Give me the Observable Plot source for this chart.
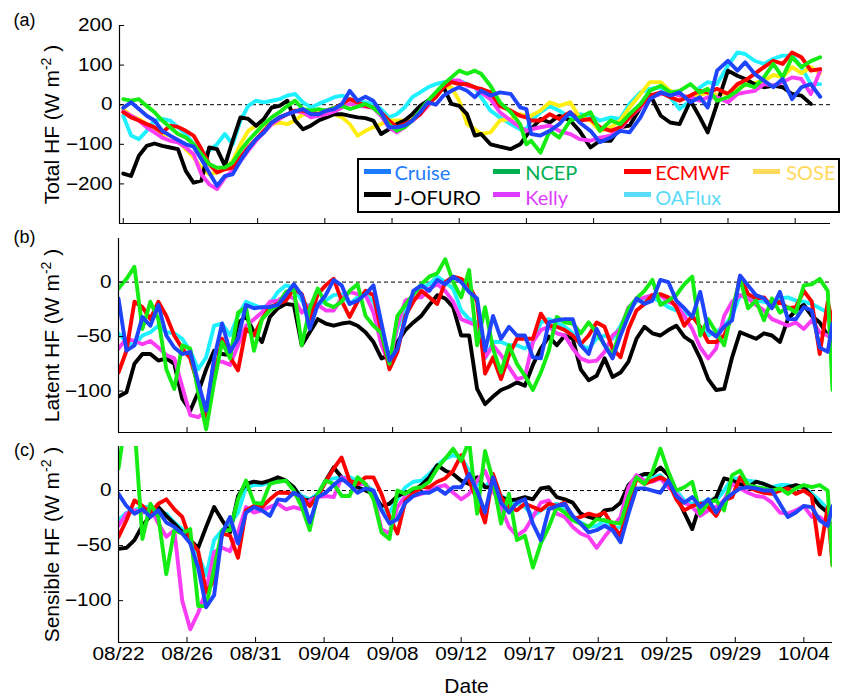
<!DOCTYPE html>
<html><head><meta charset="utf-8">
<script src="https://cdn.jsdelivr.net/npm/d3@7"></script>
<script src="https://cdn.jsdelivr.net/npm/@observablehq/plot@0.6"></script>
<style>
body{margin:0;background:#fff;}
#chart{position:relative;width:841px;height:698px;font-family:"Liberation Sans",Arial,Helvetica,sans-serif;background:#fff;}
#chart svg{display:block;}
.legend{position:absolute;left:357px;top:158px;width:483px;height:55px;box-sizing:border-box;border:2.5px solid #000;background:#fff;}
.sw{position:absolute;width:27px;height:5px;}
.lt{position:absolute;font-family:Lato,"Liberation Sans",Arial,sans-serif;font-size:20px;line-height:20px;white-space:nowrap;}
</style></head><body><div id="chart"></div><script>
// ---------------- data ----------------
const seriesNames = ["Cruise","NCEP","ECMWF","SOSE","J-OFURO","Kelly","OAFlux"];
const xTickDays = [0,4.3,8.6,12.9,17.2,21.5,25.8,30.1,34.4,38.7,43];
const xTickLabels = ["08/22","08/26","08/31","09/04","09/08","09/12","09/17","09/21","09/25","09/29","10/04"];
const yTicksTotal = [-200,-100,0,100,200];
const yTicksFlux = [-100,-50,0];

// days since 08/22 (panel a)
const daysA = [0,0.5,1,1.5,2,2.5,3,3.5,4,4.5,5,5.5,6,6.5,7,7.5,8,8.5,9,9.5,10,10.5,11,11.5,12,12.5,13,13.5,14,14.5,15,15.5,16,16.5,17,17.5,18,18.5,19,19.5,20,20.5,21,21.5,22,22.5,
  22.9,23.5,24.1,24.8,25.4,25.8,26.1,26.7,27.3,27.9,28.6,29.2,29.9,30.5,31.2,31.8,32.4,33.1,33.7,34.4,35.0,35.6,36.3,36.9,37.4,38.0,38.7,39.3,39.8,40.4,41,41.6,42.2,42.8,43.4,44,44.6];
// days since 08/22 (panels b, c)
const daysBC = [0,0.5,1,1.5,2,2.5,3,3.5,4,4.5,5,5.5,6,6.5,7,7.5,8,8.5,9,9.5,10,10.5,11,11.5,12,12.5,13,13.5,14,14.5,15,15.5,16,16.5,17,17.5,18,18.5,19,19.5,20,20.5,21,21.5,22,22.5,23,23.5,24,24.5,25,25.5,26,26.5,27,27.5,28,28.5,29,29.5,30,30.5,31,31.5,32,32.5,33,33.5,34,34.5,35,35.5,36,36.5,37,37.5,38,38.5,39,39.5,40,40.5,41,41.5,42,42.5,43,43.5,44,44.5,44.8];

// (a) Total heat flux
const totalCruise = [-8,6,-11,-28,-40,-66,-78,-89,-100,-106,-138,-171,-205,-180,-176,-142,-112,-87,-70,-45,-32,-24,-17,-11,-24,-24,-15,-11,2,35,10,20,10,-19,-57,-57,-53,-40,-19,6,0,23,35,44,35,19,
  35,23,31,27,-7,-11,-74,-78,-66,-49,-19,-45,-66,-95,-83,-66,-70,-32,14,31,23,31,6,19,-7,86,111,86,107,78,61,44,65,14,44,52,20];
const totalNCEP = [14,10,14,-3,-19,-40,-57,-74,-83,-100,-125,-150,-159,-159,-146,-116,-91,-70,-49,-32,-19,-3,10,-11,-15,-11,-15,-8,-3,-11,-5,2,-8,-24,-49,-66,-57,-40,-15,10,31,52,69,86,78,86,
  78,48,6,-19,-49,-100,-91,-121,-66,-83,-40,-32,-19,-66,-40,-49,-24,2,35,48,31,35,52,31,40,10,19,35,52,44,69,103,69,120,95,110,120];
const totalECMWF = [-19,-32,-40,-49,-57,-70,-53,-56,-66,-78,-112,-150,-171,-163,-159,-133,-108,-87,-66,-45,-32,-24,-15,-15,-19,-24,-15,-8,2,14,6,-3,-7,-19,-40,-57,-49,-40,-24,2,19,44,57,52,52,44,
  40,31,-3,-15,-28,-32,-40,-40,-24,-36,-19,-40,-36,-57,-66,-57,-32,-3,23,31,19,10,23,35,31,40,27,52,61,78,95,111,103,132,120,86,90];
const totalSOSE = [-11,-28,-36,-49,-62,-74,-78,-91,-112,-133,-159,-176,-171,-163,-142,-100,-66,-53,-49,-49,-45,-49,-40,-24,-25,-19,-15,-24,-32,-49,-78,-66,-57,-49,-40,-40,-40,-36,-15,2,23,44,44,10,-49,-62,
  -74,-70,-40,-36,-24,-28,-28,-15,6,-3,6,-32,-40,-66,-57,-40,-7,27,57,57,35,23,20,25,30,25,30,40,50,55,60,75,70,95,80,95,80];
const totalJOFURO = [-174,-180,-129,-104,-98,-104,-108,-112,-167,-197,-192,-108,-112,-154,-91,-32,-36,-53,-36,-7,-3,10,-40,-62,-53,-40,-32,-24,-24,-28,-32,-34,-40,-74,-62,-49,-40,-24,-3,10,23,44,2,-3,-24,-78,
  -74,-100,-106,-112,-100,-78,-62,-36,-45,-28,-40,-66,-108,-91,-91,-57,-53,-7,27,-28,-45,-49,10,-32,-70,2,86,73,65,52,44,48,44,27,23,2,null];
const totalKelly = [-17,-28,-40,-57,-70,-83,-91,-95,-108,-125,-176,-201,-213,-184,-167,-142,-116,-91,-70,-49,-36,-24,-17,-19,-32,-28,-24,-17,-7,2,-3,-5,-8,-28,-57,-70,-57,-40,-24,-3,23,48,61,61,48,44,
  31,14,-19,-40,-57,-66,-62,-57,-53,-66,-74,-87,-91,-83,-78,-62,-32,-7,19,27,31,23,19,10,19,19,6,27,31,35,52,48,57,69,65,27,86];
const totalOAFlux = [-28,-78,-87,-66,-40,-36,-40,-57,-74,-100,-133,-116,-100,-74,-100,-40,-3,10,6,10,14,23,27,6,-7,2,10,19,23,14,6,6,2,-11,-32,-24,-7,19,31,44,52,57,57,61,52,44,
  19,-15,-32,-49,-62,-62,-40,-19,-3,-15,-32,-24,-28,-40,-32,-36,2,31,40,44,19,-11,10,44,57,52,99,132,128,111,103,116,124,124,95,52,52];

// (b) Latent heat flux
const latentCruise = [-15,-63,-58,-32,-40,-21,-49,-60,-66,-64,-92,-118,-70,-38,-64,-52,-21,-24,-23,-23,-21,-12,-2,-12,-43,-21,-12,2,-3,-20,-17,-11,-3,-38,-72,-61,-34,-8,-3,-8,2,-2,5,0,-9,-15,
  -63,-31,-52,-41,-49,-49,-69,-70,-37,-35,-34,-34,-58,-66,-43,-58,-70,-49,-31,-15,-20,-17,2,0,-17,-24,-32,-9,-44,-50,-41,-35,6,-3,-12,-15,-24,-9,-34,-34,-23,-26,-60,-64,-38];
const latentNCEP = [-6,3,14,-43,-18,-34,-80,-98,-58,-61,-101,-135,-92,-55,-70,-28,-23,-63,-34,-26,-21,-9,-6,-58,-24,-6,-20,-23,-18,-8,-2,-31,-40,-47,-75,-31,-21,-11,-2,5,8,21,0,-14,11,-58,
  -23,-61,-83,-58,-75,-86,-99,-83,-63,-32,-37,-38,-47,-37,-46,-58,-67,-43,-24,-15,-8,2,-21,-17,-12,-2,5,-49,-34,-46,-58,-26,3,-24,-17,-35,-15,-28,-23,-28,-3,-2,3,-8,-99];
const latentECMWF = [-83,-63,-18,-23,-34,-18,-31,-49,-61,-70,-95,-124,-89,-52,-69,-81,-43,-49,-34,-23,-20,-17,-6,-11,-34,-11,-3,3,-17,-32,-18,-8,-12,-46,-80,-64,-31,-18,-8,-14,-20,0,5,3,-3,-18,
  -84,-69,-89,-67,-52,-52,-52,-29,-40,-41,-44,-49,-57,-49,-37,-41,-61,-69,-43,-26,-20,-12,-11,-14,-23,-40,-31,-41,-55,-55,-49,-31,5,-11,-15,-14,-23,-18,-24,-23,-8,-18,-66,-18,-37];
const latentJOFURO = [-105,-101,-75,-66,-66,-72,-70,-75,-107,-118,-101,-80,-63,-66,-67,-38,-31,-46,-55,-32,-24,-20,-21,-58,-46,-34,-38,-40,-38,-37,-40,-46,-55,-70,-67,-55,-44,-37,-31,-21,-12,-15,-23,-49,-49,-98,
  -112,-105,-99,-96,-92,-95,-76,-61,-50,-58,-49,-52,-80,-90,-86,-70,-87,-83,-73,-52,-41,-47,-49,-44,-40,-50,-55,-70,-89,-99,-98,-69,-46,-49,-52,-47,-49,-55,-34,-26,-21,-31,-37,-49,-52];
const latentKelly = [-61,-52,-54,-57,-54,-60,-67,-70,-96,-122,-124,-118,-73,-73,-76,-58,-40,-34,-28,-18,-17,-12,-15,-28,-21,-21,-26,-26,-15,-9,-11,-12,-28,-58,-75,-40,-17,-14,-14,-6,-2,-8,-18,-34,-37,-40,
  -69,-58,-67,-78,-89,-87,-55,-44,-41,-47,-49,-61,-70,-73,-72,-64,-49,-43,-23,-17,-14,-12,-12,-18,-21,-31,-43,-60,-70,-61,-31,-18,-12,-15,-21,-26,-34,-37,-40,-37,-43,-35,-46,-49,-50];
const latentOAFlux = [-47,-55,-58,-49,-46,-40,-46,-47,-52,-63,-80,-69,-40,-38,-49,-31,-18,-21,-24,-20,-9,-3,-5,-17,-23,-21,-17,-12,-11,-20,-14,-11,-18,-41,-70,-43,-24,-11,-5,-2,5,0,-6,-26,-34,-37,
  -70,-55,-55,-58,-58,-61,-55,-37,-34,-37,-41,-47,-58,-61,-52,-49,-52,-40,-26,-18,-15,-14,-18,-23,-26,-28,-31,-41,-49,-46,-40,-31,-12,-12,-17,-18,-20,-15,-14,-17,-18,-20,-24,-28,-28];

// (c) Sensible heat flux
const sensCruise = [-3,-14,-21,-17,-24,-18,-29,-33,-39,-48,-70,-106,-95,-39,-24,-48,-20,-15,-18,-23,-8,-9,-2,-6,-29,-6,-2,5,11,5,-2,2,0,-18,-30,-26,-11,-5,-2,-2,2,-3,3,3,15,0,
  -20,12,-11,-20,-11,-8,-30,-45,-17,-14,-12,-23,-30,-38,-36,-32,-36,-47,-21,2,2,0,-2,9,-5,-11,-6,-15,-8,-20,-9,-3,2,3,2,0,0,-12,-24,-20,-14,-15,-27,-32,-14];
const sensNCEP = [20,70,60,-44,-12,-24,-76,-36,-39,-35,-105,-105,-71,-36,-36,-8,9,-11,-12,6,8,9,0,-15,-36,-3,9,6,-5,-5,12,6,-8,-38,-44,0,-3,2,3,8,20,29,38,27,45,-21,
  36,9,-30,-3,-45,-41,-70,-48,-33,-15,-20,-27,-30,-33,-26,-27,-29,-30,-6,12,6,17,38,17,0,3,8,-21,-11,-9,-18,14,18,5,3,2,0,2,-3,2,5,3,5,0,-68];
const sensECMWF = [-42,-27,-9,-14,-21,-12,-8,-17,-24,-45,-55,-92,-82,-39,-41,-61,-18,-14,-15,-8,-2,-2,-3,-6,-14,-5,8,20,30,9,6,12,12,-3,-24,-39,-9,-3,3,3,8,11,18,32,9,-9,
  -29,15,-6,-15,-18,-12,-15,-18,-12,-14,-11,-26,-24,-21,-23,-20,-32,-41,-15,11,6,9,12,8,-8,-18,-14,-12,-15,-23,-9,-6,12,3,0,-2,-3,0,2,-3,0,-5,-58,-15,-68];
const sensJOFURO = [-53,-52,-45,-32,-23,-15,-23,-30,-38,-45,-52,-33,-15,-27,-38,-5,6,8,7,9,12,9,3,-8,-9,-5,9,21,12,8,3,0,-3,-14,-12,-5,-2,0,5,12,23,18,15,9,6,12,
  3,3,-6,-9,-8,-6,-8,2,3,-6,-8,-11,-21,-24,-26,-18,-17,-11,5,12,15,15,21,14,-5,-20,-35,-12,-12,-6,11,9,6,3,8,6,3,0,3,5,3,-5,-14,-20,-22];
const sensKelly = [-32,-21,-18,-20,-15,-30,-42,-36,-100,-126,-111,-91,-56,-52,-55,-38,-15,-20,-18,-15,-12,-17,-15,-17,-9,-6,-5,-6,12,9,6,6,-5,-35,-39,-15,-5,-5,-3,0,3,5,-2,-8,-3,9,
  18,0,-15,-33,-41,-36,-24,-11,-9,-21,-24,-33,-39,-42,-52,-42,-33,-24,3,14,9,8,11,3,-3,-11,-15,-23,-18,-15,-9,6,2,-2,-5,-6,-11,-20,-21,-18,-14,-24,-24,-30,-30];
const sensOAFlux = [-27,-20,-18,-15,-15,-20,-21,-29,-35,-45,-58,-77,-45,-36,-30,-20,3,5,5,8,8,9,2,-5,-8,-3,9,11,12,12,9,5,0,-17,-20,-8,3,8,9,15,23,29,32,30,18,6,
  3,12,-5,-9,-12,-15,-23,-18,-14,-12,-18,-26,-29,-33,-32,-27,-35,-33,-9,12,15,12,14,6,0,-9,-12,-12,-8,-9,0,11,11,9,8,6,3,5,5,3,3,-3,-9,-17,-20];

// ---------------- styling ----------------
const lineColors = {Cruise:"#1f45fc", NCEP:"#14ec14", ECMWF:"#ff0000", SOSE:"#ffee11", "J-OFURO":"#000000", Kelly:"#fb3cf5", OAFlux:"#1ff0ff"};
const legendColors = {Cruise:"#1c7cff", NCEP:"#00b050", ECMWF:"#ff0000", SOSE:"#ffd95a", "J-OFURO":"#000000", Kelly:"#dd3cff", OAFlux:"#5adcf8"};
const drawOrder = ["OAFlux","SOSE","J-OFURO","Kelly","ECMWF","NCEP","Cruise"];
const FONT = "'Liberation Sans', Arial, Helvetica, sans-serif";
const W = 841;
const labelOf = new Map(xTickDays.map((t, i) => [t, xTickLabels[i]]));

function superscript(svg, parts) {
  const full = parts.join("");
  const ns = "http://www.w3.org/2000/svg";
  for (const t of svg.querySelectorAll("text")) {
    if (t.textContent === full) {
      t.textContent = "";
      const a = document.createElementNS(ns, "tspan"); a.textContent = parts[0];
      const b = document.createElementNS(ns, "tspan"); b.textContent = parts[1];
      b.setAttribute("dy", "-8"); b.setAttribute("font-size", "14");
      const c = document.createElementNS(ns, "tspan"); c.textContent = parts[2]; c.setAttribute("dy", "8");
      t.append(a, b, c);
    }
  }
}

function makePanel(cfg) {
  const {days, data, yDomain, yTicks, xDomain, height, mt, mb, ml, mr, tag, tagDy, title, showX} = cfg;
  const pw = W - ml - mr, ph = height - mt - mb;
  const marks = [Plot.ruleY([0], {stroke: "#000", strokeWidth: 1, strokeDasharray: "4,3"})];
  for (const name of drawOrder) {
    const vals = data[name];
    if (!vals) continue;
    const pts = days.map((d, i) => ({d, v: vals[i]})).filter(p => p.v != null);
    marks.push(Plot.line(pts, {x: "d", y: "v", stroke: lineColors[name], strokeWidth: 3.9,
      strokeLinejoin: "round", strokeLinecap: "round", clip: true}));
  }
  marks.push(Plot.ruleX([xDomain[0]], {stroke: "#000", strokeWidth: 1.2}));
  marks.push(Plot.ruleY([yDomain[0]], {stroke: "#000", strokeWidth: 1.2}));
  marks.push(Plot.tickY(yTicks, {y: d => d, insetRight: pw - 5, stroke: "#000", strokeWidth: 1}));
  marks.push(Plot.tickX(xTickDays, {x: d => d, insetTop: ph - 5, stroke: "#000", strokeWidth: 1}));
  marks.push(Plot.axisY(yTicks, {anchor: "left", tickSize: 0, tickPadding: 7, fontSize: 18, label: null}));
  if (showX) {
    marks.push(Plot.axisX(xTickDays, {anchor: "bottom", tickSize: 0, tickPadding: 5, fontSize: 18, label: null,
      tickFormat: d => labelOf.get(d)}));
    marks.push(Plot.text(["Date"], {text: d => d, frameAnchor: "bottom", dx: -9, dy: 44, fontSize: 21, lineAnchor: "middle"}));
  }
  marks.push(Plot.text([title.join("")], {text: d => d, frameAnchor: "left", rotate: -90, dx: 52 - ml,
    fontSize: 21, textAnchor: "middle", lineAnchor: "middle"}));
  marks.push(Plot.text([tag], {text: d => d, frameAnchor: "top-left", dx: 24 - ml, dy: tagDy,
    fontSize: 18, textAnchor: "middle", lineAnchor: "middle"}));
  const svg = Plot.plot({
    width: W, height, marginTop: mt, marginBottom: mb, marginLeft: ml, marginRight: mr,
    x: {domain: xDomain, axis: showX ? undefined : null, label: null},
    y: {domain: yDomain, label: null},
    style: {fontFamily: FONT, fontSize: "18px", background: "white", color: "#000", overflow: "visible"},
    marks
  });
  superscript(svg, title);
  return svg;
}

// horizontally widen tick labels (the reference figure is slightly stretched)
function widen(svg, factor) {
  for (const t of svg.querySelectorAll('g[aria-label="y-axis tick label"] text, g[aria-label="x-axis tick label"] text')) {
    const len = t.getComputedTextLength();
    if (len > 0) {
      t.setAttribute("textLength", (len * factor).toFixed(1));
      t.setAttribute("lengthAdjust", "spacingAndGlyphs");
    }
  }
}

const chart = document.getElementById("chart");
const svgA = makePanel({
  days: daysA,
  data: {Cruise: totalCruise, NCEP: totalNCEP, ECMWF: totalECMWF, SOSE: totalSOSE, "J-OFURO": totalJOFURO, Kelly: totalKelly, OAFlux: totalOAFlux},
  yDomain: [-300, 200], yTicks: yTicksTotal, xDomain: [-0.24, 45.26],
  height: 230, mt: 25, mb: 7, ml: 119, mr: 11, tag: "(a)", tagDy: -5,
  title: ["Total HF (W m", "-2", " )"], showX: false
});
const svgB = makePanel({
  days: daysBC,
  data: {Cruise: latentCruise, NCEP: latentNCEP, ECMWF: latentECMWF, "J-OFURO": latentJOFURO, Kelly: latentKelly, OAFlux: latentOAFlux},
  yDomain: [-138, 40], yTicks: yTicksFlux, xDomain: [0, 44.8],
  height: 207, mt: 8, mb: 5, ml: 118, mr: 9, tag: "(b)", tagDy: -1,
  title: ["Latent HF (W m", "-2", " )"], showX: false
});
const svgC = makePanel({
  days: daysBC,
  data: {Cruise: sensCruise, NCEP: sensNCEP, ECMWF: sensECMWF, "J-OFURO": sensJOFURO, Kelly: sensKelly, OAFlux: sensOAFlux},
  yDomain: [-138, 40], yTicks: yTicksFlux, xDomain: [0, 44.8],
  height: 261, mt: 9, mb: 56, ml: 118, mr: 9, tag: "(c)", tagDy: 4,
  title: ["Sensible HF (W m", "-2", " )"], showX: true
});
chart.append(svgA, svgB, svgC);
for (const s of [svgA, svgB, svgC]) widen(s, 1.15);

// legend (HTML overlay on panel a)
const legend = document.createElement("div");
legend.className = "legend";
const legendRows = [["Cruise","NCEP","ECMWF","SOSE"], ["J-OFURO","Kelly","OAFlux"]];
const swX = [4.5, 133.5, 264.5, 393.5], txX = [35.5, 166.2, 296.2, 427.2];
const swY = [9, 31.7], txY = [1.9, 26.6];
legendRows.forEach((row, r) => row.forEach((name, c) => {
  const sw = document.createElement("div");
  sw.className = "sw";
  sw.style.left = swX[c] + "px"; sw.style.top = swY[r] + "px"; sw.style.background = legendColors[name];
  const tx = document.createElement("span");
  tx.className = "lt";
  tx.style.left = txX[c] + "px"; tx.style.top = txY[r] + "px"; tx.style.color = legendColors[name];
  tx.textContent = name;
  legend.append(sw, tx);
}));
chart.append(legend);
</script></body></html>
